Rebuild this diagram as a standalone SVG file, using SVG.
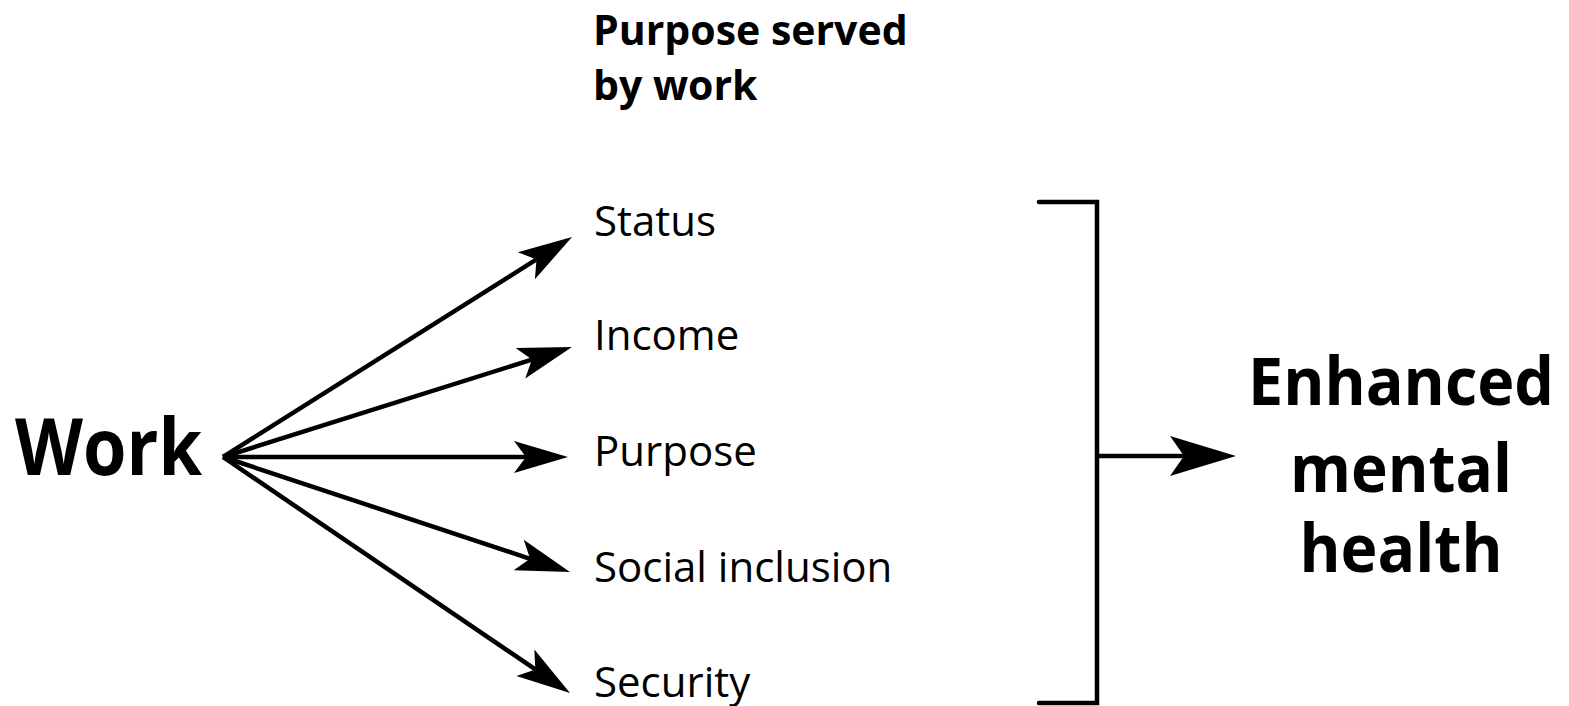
<svg xmlns="http://www.w3.org/2000/svg" width="1569" height="706" viewBox="0 0 1569 706">
<style>
.lbl{font-family:"Open Sans","Noto Sans","Liberation Sans",sans-serif;font-size:42px;fill:#000}
.hd{font-family:"Open Sans","Noto Sans","Liberation Sans",sans-serif;font-size:41px;font-weight:bold;fill:#000}
.big{font-family:"Open Sans","Noto Sans","Liberation Sans",sans-serif;font-weight:bold;fill:#000}
.ln{stroke:#000;stroke-width:4.5;fill:none}
</style>
<defs>
<marker id="ah" markerUnits="userSpaceOnUse" orient="auto" refX="0" refY="0" markerWidth="80" markerHeight="60" viewBox="-20 -30 80 60" overflow="visible">
<path d="M-12,-16 L42,0 L-12,16 L0,0 Z" fill="#000"/>
</marker>
<marker id="ahb" markerUnits="userSpaceOnUse" orient="auto" refX="0" refY="0" markerWidth="100" markerHeight="70" viewBox="-25 -35 100 70" overflow="visible">
<path d="M-14,-20 L52,0 L-14,20 L0,0 Z" fill="#000"/>
</marker>
</defs>
<rect width="1569" height="706" fill="#fff"/>
<g id="heading"><text class="hd" x="593" y="45">Purpose served</text><text class="hd" x="593" y="100">by work</text></g>
<g id="work"><text class="big" x="15" y="475" font-size="78" textLength="187" lengthAdjust="spacingAndGlyphs">Work</text></g>
<g id="status"><text class="lbl" x="594" y="236">Status</text></g>
<g id="income"><text class="lbl" x="594" y="350">Income</text></g>
<g id="purpose"><text class="lbl" x="594" y="466">Purpose</text></g>
<g id="social"><text class="lbl" x="594" y="582">Social inclusion</text></g>
<g id="security"><text class="lbl" x="594" y="697">Security</text></g>
<g id="outcome" text-anchor="middle">
<text class="big" x="1401" y="405" font-size="67" textLength="306" lengthAdjust="spacingAndGlyphs">Enhanced</text>
<text class="big" x="1401" y="492" font-size="67" textLength="222" lengthAdjust="spacingAndGlyphs">mental</text>
<text class="big" x="1401" y="572" font-size="67" textLength="203" lengthAdjust="spacingAndGlyphs">health</text>
</g>
<g id="connectors">
<line class="ln" x1="223" y1="457" x2="536.5" y2="259.4" marker-end="url(#ah)"/>
<line class="ln" x1="223" y1="457" x2="531.9" y2="359.6" marker-end="url(#ah)"/>
<line class="ln" x1="223" y1="457" x2="526" y2="457" marker-end="url(#ah)"/>
<line class="ln" x1="223" y1="457" x2="530.1" y2="558.8" marker-end="url(#ah)"/>
<line class="ln" x1="223" y1="457" x2="535.3" y2="669.4" marker-end="url(#ah)"/>
<path class="ln" stroke-width="5" stroke-linecap="round" d="M1039,202 H1097 V703 H1039"/>
<line class="ln" stroke-width="5" x1="1097" y1="456" x2="1184" y2="456" marker-end="url(#ahb)"/>
</g>
</svg>
